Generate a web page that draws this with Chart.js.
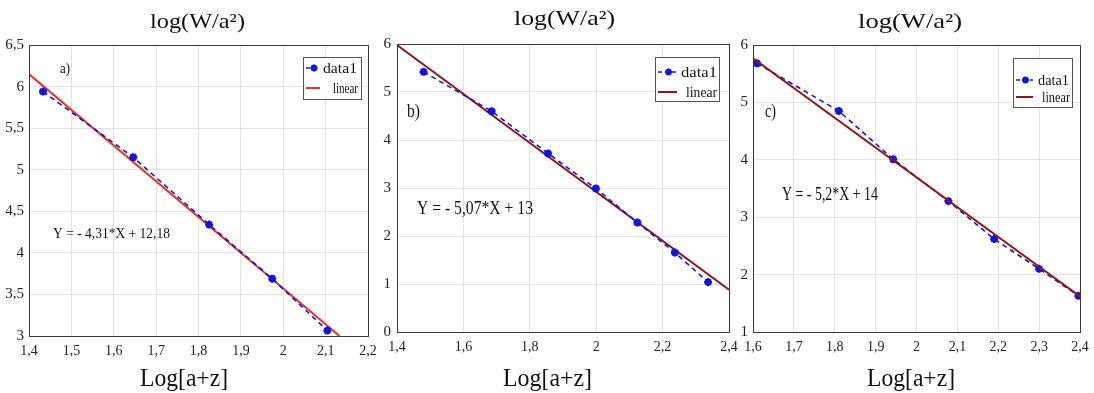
<!DOCTYPE html>
<html>
<head>
<meta charset="utf-8">
<style>
  body { margin: 0; background: #fff; }
  #wrap { position: relative; width: 1094px; height: 393px; }
  canvas { position: absolute; left: 0; top: 0; }
</style>
<script src="https://cdn.jsdelivr.net/npm/chart.js"></script>
</head>
<body>
<div id="wrap">
  <canvas id="chartA" width="1094" height="393"></canvas>
  <canvas id="chartB" width="1094" height="393"></canvas>
  <canvas id="chartC" width="1094" height="393"></canvas>
</div>
<script>
// === Donnees ===
// panneau a)
const xA = [1.433, 1.646, 1.825, 1.974, 2.104];
const yA = [5.94, 5.15, 4.34, 3.69, 3.065];
const fitXA = [1.4, 2.133];
const fitYA = [6.15, 3.0];
const xTicksA = [1.4, 1.5, 1.6, 1.7, 1.8, 1.9, 2, 2.1, 2.2];
const yTicksA = [3, 3.5, 4, 4.5, 5, 5.5, 6, 6.5];
// panneau b)
const xB = [1.48, 1.685, 1.855, 1.999, 2.124, 2.237, 2.337];
const yB = [5.42, 4.60, 3.72, 2.99, 2.28, 1.655, 1.04];
const fitXB = [1.4, 2.4];
const fitYB = [5.98, 0.88];
const xTicksB = [1.4, 1.6, 1.8, 2, 2.2, 2.4];
const yTicksB = [0, 1, 2, 3, 4, 5, 6];
// panneau c)
const xC = [1.61, 1.81, 1.943, 2.078, 2.19, 2.30, 2.396];
const yC = [5.68, 4.85, 4.01, 3.28, 2.62, 2.10, 1.63];
const fitXC = [1.6, 2.4];
const fitYC = [5.77, 1.62];
const xTicksC = [1.6, 1.7, 1.8, 1.9, 2, 2.1, 2.2, 2.3, 2.4];
const yTicksC = [1, 2, 3, 4, 5, 6];

const titleText = 'log(W/a²)';
const xLabelText = 'Log[a+z]';
const seriesNames = ['data1', 'linear'];
const equations = ['Y = - 4,31*X + 12,18', 'Y = - 5,07*X + 13', 'Y = - 5,2*X + 14'];
const letters = ['a)', 'b)', 'c)'];

const serif = '"Liberation Serif", "Times New Roman", serif';
const blue = '#1414d8';

function toPts(xs, ys) {
  return xs.map((x, i) => ({ x: x, y: ys[i] }));
}

function comma(v) {
  return String(Number(v.toFixed(2))).replace('.', ',');
}

// texte compresse horizontalement pour tenir dans une largeur donnee
function fitText(ctx, txt, x, y, size, width) {
  ctx.save();
  ctx.font = size + 'px ' + serif;
  const w = ctx.measureText(txt).width;
  ctx.translate(x, y);
  ctx.scale(width / w, 1);
  ctx.textAlign = 'left';
  ctx.textBaseline = 'alphabetic';
  ctx.fillStyle = '#111';
  ctx.fillText(txt, 0, 0);
  ctx.restore();
}

function drawStar(ctx, x, y, r) {
  ctx.beginPath();
  for (let k = 0; k < 4; k++) {
    const a = k * Math.PI / 4;
    ctx.moveTo(x - r * Math.cos(a), y - r * Math.sin(a));
    ctx.lineTo(x + r * Math.cos(a), y + r * Math.sin(a));
  }
  ctx.stroke();
}

// === Cadre, legende, textes ===
const decorPlugin = {
  id: 'decor',
  afterDraw(chart, args, o) {
    const ctx = chart.ctx;
    const a = chart.chartArea;
    ctx.save();
    ctx.strokeStyle = '#3a3a3a';
    ctx.lineWidth = 1;
    ctx.strokeRect(a.left + 0.5, a.top + 0.5, a.right - a.left, a.bottom - a.top);

    // legende
    const L = o.legend;
    ctx.fillStyle = '#fff';
    ctx.fillRect(L.x0, L.y0, L.x1 - L.x0, L.y1 - L.y0);
    ctx.strokeStyle = '#555';
    ctx.strokeRect(L.x0 + 0.5, L.y0 + 0.5, L.x1 - L.x0, L.y1 - L.y0);
    const dsData = chart.data.datasets.find(d => d.label === seriesNames[0]);
    const dsFit = chart.data.datasets.find(d => d.label === seriesNames[1]);
    ctx.strokeStyle = dsData.borderColor;
    ctx.lineWidth = 1.6;
    ctx.setLineDash([4, 3]);
    ctx.beginPath();
    ctx.moveTo(L.sx0, L.r1);
    ctx.lineTo(L.sx1, L.r1);
    ctx.stroke();
    ctx.setLineDash([]);
    ctx.lineWidth = 2.2;
    drawStar(ctx, (L.sx0 + L.sx1) / 2 + 1, L.r1, 3.6);
    ctx.strokeStyle = dsFit.borderColor;
    ctx.lineWidth = 2;
    ctx.beginPath();
    ctx.moveTo(L.sx0, L.r2);
    ctx.lineTo(L.sx1, L.r2);
    ctx.stroke();
    fitText(ctx, seriesNames[0], L.t1[0], L.r1 + L.size * 0.33, L.size, L.t1[1]);
    fitText(ctx, seriesNames[1], L.t2[0], L.r2 + L.size * 0.33, L.size, L.t2[1]);

    // textes libres
    o.texts.forEach(t => fitText(ctx, t.txt, t.x, t.y, t.size, t.w));
    ctx.restore();
  }
};

function makePanel(id, p) {
  const datasets = [
    {
      label: seriesNames[0],
      data: toPts(p.xs, p.ys),
      borderColor: blue,
      backgroundColor: blue,
      borderWidth: 1.6,
      borderDash: [5, 4],
      pointStyle: 'star',
      pointRadius: 4,
      pointBorderWidth: 2.4,
      order: p.dataOrder
    },
    {
      label: seriesNames[1],
      data: toPts(p.fitX, p.fitY),
      borderColor: p.fitColor,
      borderWidth: 2,
      pointRadius: 0,
      order: p.fitOrder
    }
  ];
  new Chart(document.getElementById(id), {
    type: 'line',
    data: { datasets: datasets },
    options: {
      responsive: false,
      animation: false,
      layout: { padding: p.padding },
      plugins: {
        legend: { display: false },
        tooltip: { enabled: false },
        decor: p.decor
      },
      scales: {
        x: {
          type: 'linear',
          min: p.xTicks[0],
          max: p.xTicks[p.xTicks.length - 1],
          afterBuildTicks: s => { s.ticks = p.xTicks.map(v => ({ value: v })); },
          afterFit: s => { s.height = 24; s.paddingLeft = 0; s.paddingRight = 0; },
          grid: { color: '#e2e2e2', drawTicks: false },
          border: { color: '#3a3a3a' },
          ticks: {
            padding: 7,
            maxRotation: 0,
            autoSkip: false,
            color: '#222',
            font: { family: serif, size: 14 },
            callback: v => comma(v)
          }
        },
        y: {
          type: 'linear',
          min: p.yTicks[0],
          max: p.yTicks[p.yTicks.length - 1],
          afterBuildTicks: s => { s.ticks = p.yTicks.map(v => ({ value: v })); },
          afterFit: s => { s.width = p.yWidth; s.paddingTop = 0; s.paddingBottom = 0; },
          grid: { color: '#e2e2e2', drawTicks: false },
          border: { color: '#3a3a3a' },
          ticks: {
            padding: p.yPad,
            autoSkip: false,
            color: '#222',
            font: { family: serif, size: 15 },
            callback: v => comma(v)
          }
        }
      }
    },
    plugins: [decorPlugin]
  });
}

makePanel('chartA', {
  xs: xA, ys: yA, fitX: fitXA, fitY: fitYA, xTicks: xTicksA, yTicks: yTicksA,
  fitColor: '#e2352c', dataOrder: 0, fitOrder: 1,
  yWidth: 29, yPad: 5,
  padding: { left: 0, right: 1094 - 368, top: 45, bottom: 393 - 336 - 24 },
  decor: {
    legend: { x0: 303, y0: 57, x1: 361, y1: 99, r1: 68, r2: 88, sx0: 306, sx1: 320,
              t1: [323, 34], t2: [333, 25], size: 14 },
    texts: [
      { txt: titleText, x: 150, y: 28, size: 21, w: 95 },
      { txt: xLabelText, x: 140, y: 386, size: 26, w: 88 },
      { txt: equations[0], x: 53, y: 238, size: 15, w: 117 },
      { txt: letters[0], x: 60, y: 73, size: 15, w: 10 }
    ]
  }
});

makePanel('chartB', {
  xs: xB, ys: yB, fitX: fitXB, fitY: fitYB, xTicks: xTicksB, yTicks: yTicksB,
  fitColor: '#8e1616', dataOrder: 0, fitOrder: 1,
  yWidth: 17, yPad: 6,
  padding: { left: 397 - 17, right: 1094 - 729, top: 44, bottom: 393 - 332 - 24 },
  decor: {
    legend: { x0: 655, y0: 57, x1: 719, y1: 101, r1: 72, r2: 92, sx0: 658, sx1: 677,
              t1: [681, 36], t2: [686, 31], size: 15 },
    texts: [
      { txt: titleText, x: 514, y: 25, size: 21, w: 101 },
      { txt: xLabelText, x: 503, y: 386, size: 26, w: 89 },
      { txt: equations[1], x: 417, y: 214, size: 19, w: 116 },
      { txt: letters[1], x: 407, y: 117, size: 19, w: 13 }
    ]
  }
});

makePanel('chartC', {
  xs: xC, ys: yC, fitX: fitXC, fitY: fitYC, xTicks: xTicksC, yTicks: yTicksC,
  fitColor: '#8e1616', dataOrder: 1, fitOrder: 0,
  yWidth: 13, yPad: 5,
  padding: { left: 753 - 13, right: 1094 - 1080, top: 45, bottom: 393 - 332 - 24 },
  decor: {
    legend: { x0: 1013, y0: 58, x1: 1072, y1: 107, r1: 80, r2: 97, sx0: 1016, sx1: 1033,
              t1: [1038, 31], t2: [1042, 28], size: 14 },
    texts: [
      { txt: titleText, x: 858, y: 28, size: 21, w: 104 },
      { txt: xLabelText, x: 867, y: 386, size: 26, w: 88 },
      { txt: equations[2], x: 782, y: 200, size: 18, w: 96 },
      { txt: letters[2], x: 765, y: 117, size: 18, w: 11 }
    ]
  }
});
</script>
</body>
</html>
